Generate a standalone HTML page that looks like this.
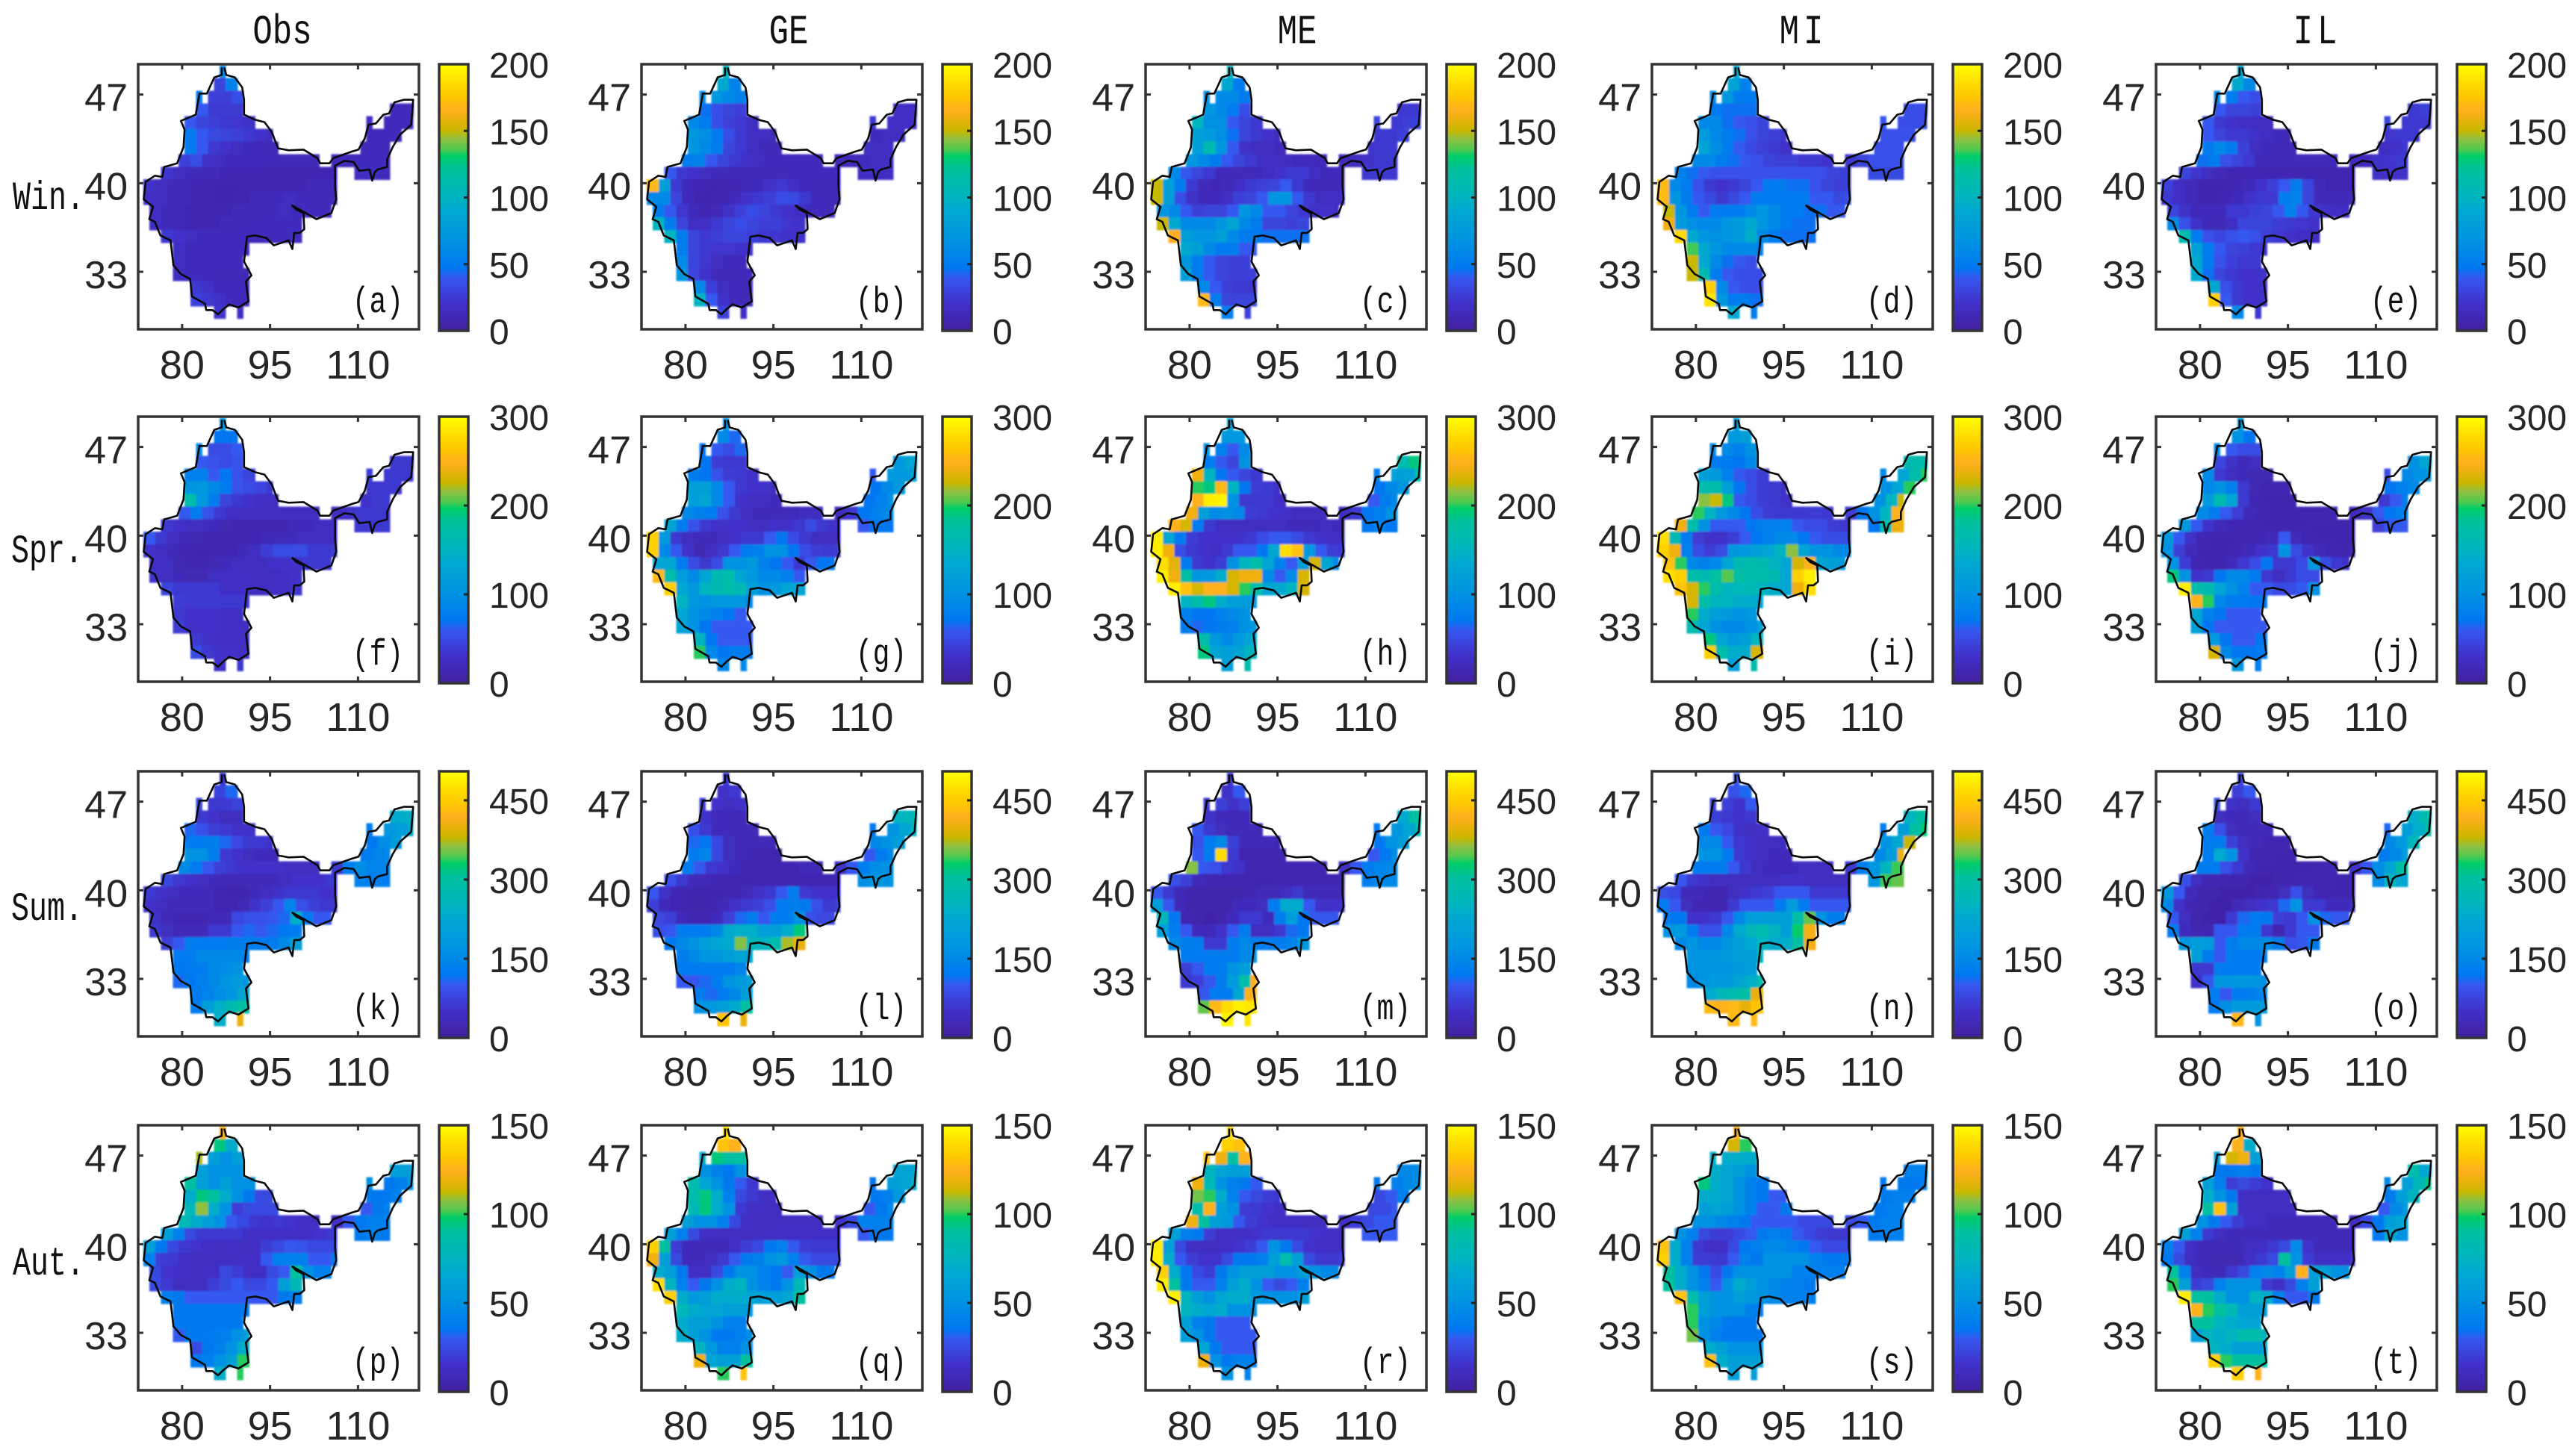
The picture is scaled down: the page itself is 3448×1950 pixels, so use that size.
<!DOCTYPE html>
<html lang="en">
<head>
<meta charset="utf-8">
<title>Seasonal precipitation maps</title>
<style>
html,body{margin:0;padding:0;background:#fff;width:3448px;height:1950px;overflow:hidden}
svg{display:block}
.num{font-family:"Liberation Sans",sans-serif;fill:#262626}
.mono{font-family:"Liberation Mono",monospace;fill:#111}
</style>
</head>
<body>
<svg id="figure" xmlns="http://www.w3.org/2000/svg" width="3448" height="1950" viewBox="0 0 3448 1950">
<defs>
<filter id="soft" x="-5%" y="-5%" width="110%" height="110%"><feGaussianBlur stdDeviation="1.1"/></filter>
<linearGradient id="barGradient" x1="0" y1="1" x2="0" y2="0"></linearGradient>
</defs>
<rect width="3448" height="1950" fill="#fff"/>
<text class="mono" font-size="44" text-anchor="middle" transform="translate(378,58) scale(1,1.27)">Obs</text>
<text class="mono" font-size="44" text-anchor="middle" transform="translate(1056,58) scale(1,1.27)">GE</text>
<text class="mono" font-size="44" text-anchor="middle" transform="translate(1737,58) scale(1,1.27)">ME</text>
<text class="mono" font-size="44" text-anchor="middle" letter-spacing="6" transform="translate(2415,58) scale(1,1.27)">MI</text>
<text class="mono" font-size="44" text-anchor="middle" letter-spacing="6" transform="translate(3103,58) scale(1,1.27)">IL</text>
<text class="mono" font-size="40" transform="translate(17,280) scale(1,1.35)">Win.</text>
<text class="mono" font-size="40" transform="translate(15,753) scale(1,1.35)">Spr.</text>
<text class="mono" font-size="40" transform="translate(15,1232) scale(1,1.35)">Sum.</text>
<text class="mono" font-size="40" transform="translate(17,1707) scale(1,1.35)">Aut.</text>
</svg>
<script>
// Tick labels and colour scale maxima
const lonTicks = [80, 95, 110];
const latTicks = [47, 40, 33];
const rowMaxima = [200, 300, 505, 150];
const rowColorTicks = [[0,50,100,150,200],[0,100,200,300],[0,150,300,450],[0,50,100,150]];
const panelTags = ["a","b","c","d","e","f","g","h","i","j","k","l","m","n","o","p","q","r","s","t"];
const modelKeys = ["obs","ge","me","mi","il"];
const seasonKeys = ["win","spr","sum","aut"];

// Land cells per latitude row: start/end grid column of each contiguous run
const landSegments = [
[[14,15]],[[13,17]],[[10,11],[12,18]],[[10,18],[43,47]],[[8,20],[39,40],[42,47]],
[[8,23],[39,45]],[[8,24],[38,43]],[[7,31],[33,43]],[[4,34],[37,43]],[[1,34]],
[[1,34]],[[2,33]],[[2,28]],[[4,28]],[[6,19]],[[6,18]],[[6,19]],[[9,19]],[[9,19]],[[13,15],[17,18]]];

// Basin boundary (lon, lat)
const boundaryLon = [87.2,87.52,88.98,90.24,90.56,90.56,92.46,94.05,95.31,95.95,96.39,98.17,100.7,103.1,103.55,105.14,105.77,108.94,110.08,111.16,111.79,113.06,114.33,115.28,116.23,117.81,119.4,119.08,117.18,115.91,114.96,114.96,113.37,112.87,112.42,111.98,110.21,109.26,107.67,106.09,106.09,106.28,105.45,102.92,100.7,98.8,99.43,100.7,100.83,100.07,99.12,98.8,98.17,95.63,94.36,92.46,91.07,90.56,91.83,90.88,91.32,90.24,89.61,88.03,87.08,86.13,85.17,84.1,83.91,81.69,81.37,79.79,78.52,78.01,76.3,75.35,74.4,75.03,73.45,73.77,75.35,76.62,76.94,79.15,80.23,80.42,79.79,82.32,82.96,84.22,85.49,86.76,86.76];
const boundaryLat = [49.14,48.55,48.36,47.57,46.59,45.41,45.01,44.82,44.03,43.24,42.75,42.6,42.65,41.97,41.57,41.57,41.97,42.5,42.65,43.54,44.62,44.72,45.41,45.51,46.39,46.59,46.59,44.62,43.83,42.85,41.87,41.28,41.08,40.88,40.2,41.08,40.98,41.67,41.77,41.38,39.7,38.72,37.64,37.15,37.74,38.23,37.93,37.64,36.36,36.07,36.07,34.79,35.48,35.08,35.67,35.87,35.77,33.81,32.72,32.23,30.66,30.36,30.17,30.42,30.07,29.64,29.97,29.97,30.46,31.05,32.43,32.82,33.51,35.48,35.87,36.95,37.15,38.13,38.72,40.1,40.59,40.49,41.28,41.57,42.85,44.23,44.92,45.41,47.08,47.08,48.36,48.55,49.14];

// Precipitation values per model / season, one sub-array per latitude row
const winObs = [[60],[30,55],[50,28,28,35],[40,25,25,25,14,14],[40,30,28,24,22,20,18,14,14,14],[50,40,32,30,28,24,20,16,14,14,14],[50,40,24,20,16,14,14,12,14,14,12],[28,35,20,16,14,14,14,14,12,12,12,12,14,14,14,14,14],[22,16,14,12,12,10,10,10,10,10,10,10,10,10,10,16,16,14],[20,16,12,12,10,10,8,8,8,8,10,10,10,10,12,12,12],[18,16,12,12,10,10,8,8,10,12,12,14,16,14,12,12,12],[18,14,12,10,10,10,10,12,12,12,14,16,14,14,14,14],[18,14,12,10,10,10,12,12,14,14,14,14,14],[24,20,16,14,14,14,14,14,14,14,14,16],[18,14,14,14,14,14,14],[16,14,14,14,14,14],[16,14,14,14,12,12,12],[24,20,14,14,14],[28,24,20,14,14],[22,18]];
const winGe = [[100],[90,55],[60,70,60,55],[45,35,30,28,18,18],[60,50,35,28,24,18,24,18,18,18],[70,65,50,35,24,18,16,14,14,16,18],[70,60,50,30,24,18,14,12,16,16,18],[50,55,40,30,24,20,16,14,14,14,14,14,14,14,14,16,16],[40,24,20,16,14,12,12,12,12,12,14,14,14,14,14,18,18,18],[170,80,24,14,10,8,8,10,12,14,20,24,18,14,12,12,12],[60,60,30,14,8,8,10,14,20,24,28,34,32,24,14,12,14],[50,40,22,14,10,12,20,28,34,30,24,20,16,14,14,14],[100,50,30,18,18,24,30,34,30,28,28,22,20],[100,50,30,24,28,30,30,28,24,22,20,20],[50,30,24,22,22,20,18],[60,30,22,16,14,14],[70,30,20,14,12,14,14],[60,28,16,14,14],[100,40,20,14,12],[28,18]];
const winMe = [[100],[90,50],[65,60,60,50],[70,60,50,35,24,24],[100,65,65,40,30,24,30,24,28,28],[80,75,65,45,30,24,20,16,24,24,28],[80,110,70,40,20,16,16,14,22,24,24],[70,60,50,40,30,24,18,18,16,14,14,14,14,16,20,24,24],[60,40,30,24,14,12,12,14,18,20,24,24,18,14,14,24,24,24],[150,80,50,24,12,10,12,18,24,28,30,40,24,14,12,12,12],[150,80,35,20,14,14,18,28,30,40,70,70,40,24,16,18,16],[70,60,40,28,30,30,40,70,60,40,40,30,24,20,20,18],[150,90,60,60,60,70,85,60,50,30,30,28,30],[165,80,70,70,80,60,50,50,45,45,45,45],[90,80,60,50,50,40,40],[70,50,40,30,28,28],[80,50,40,30,28,28,28],[60,40,28,24,24],[170,50,30,30,30],[50,28]];
const winMi = [[90],[85,55],[60,70,50,50],[50,45,45,45,35,35],[60,60,45,40,36,30,40,35,35,35],[75,60,50,45,36,30,28,24,36,36,36],[85,65,50,40,32,28,24,20,36,36,36],[60,60,50,45,40,36,30,28,28,24,24,20,24,30,36,36,36],[55,45,40,36,36,36,36,36,36,36,36,36,36,30,28,32,32,32],[170,60,50,36,24,20,24,30,40,50,50,45,45,36,30,28,28],[170,70,50,40,32,24,32,40,50,50,50,50,50,40,40,32,36],[150,70,50,40,50,50,50,60,70,60,50,50,45,45,40,40],[160,75,65,60,60,70,75,90,70,60,50,45,45],[185,90,70,65,70,75,95,60,50,45,45,45],[135,90,70,60,60,60,50],[150,90,60,45,40,35],[150,110,50,40,35,35,35],[180,60,40,35,35],[190,70,50,50,45],[90,50]];
const winIl = [[90],[90,60],[60,50,40,35],[40,30,30,28,24,28],[40,24,20,18,18,16,30,24,24,24],[40,30,24,24,20,16,14,12,22,24,24],[50,60,50,28,16,14,12,12,18,20,24],[45,50,36,30,24,14,12,12,12,12,12,12,14,14,20,22,24],[30,22,16,12,10,10,10,10,10,10,10,10,10,10,10,20,20,20],[28,18,12,8,8,8,10,14,20,28,40,50,30,12,10,10,10],[24,18,12,8,8,10,14,20,24,24,50,55,30,14,12,12,12],[30,20,14,14,14,24,24,28,30,40,55,40,24,20,18,18],[60,36,20,14,12,18,30,30,30,26,24,22,20],[110,50,36,30,36,40,36,28,24,20,18,18],[80,50,40,30,28,24,22],[90,50,36,28,24,24],[90,45,30,24,20,20,20],[90,36,24,20,20],[180,40,24,20,20],[60,24]];
const sprObs = [[105],[70,70],[90,50,50,60],[60,55,50,55,36,36],[80,80,60,70,55,45,40,36,36,36],[105,110,90,75,55,50,45,35,36,36,36],[170,110,75,45,36,30,28,24,30,36,36],[60,75,55,36,28,24,24,24,24,24,24,24,24,30,36,36,36],[36,30,24,24,20,16,14,14,14,14,14,20,22,24,24,36,36,36],[60,36,24,20,16,14,12,12,14,14,20,20,20,24,24,24,24],[30,24,20,14,12,12,14,14,20,24,40,50,50,50,36,36,40],[28,24,16,14,14,16,20,24,24,24,30,30,30,36,36,36],[30,24,20,16,16,24,28,28,24,24,24,28,30],[45,36,36,36,36,28,28,28,24,24,28,36],[40,36,36,36,36,36,36],[36,30,30,30,28,28],[40,30,30,30,28,28,28],[36,30,28,28,28],[50,36,30,30,28],[30,36]];
const sprGe = [[100],[90,65],[70,60,50,65],[70,40,36,36,110,130],[75,70,55,40,36,30,60,110,110,120],[120,120,90,60,36,30,30,24,70,90,110],[120,130,90,60,30,24,24,20,70,80,100],[90,80,75,55,36,24,20,20,20,20,24,24,24,36,70,80,90],[130,75,55,36,30,30,30,24,24,30,30,36,50,36,30,60,70,70],[270,110,36,24,20,20,24,30,36,36,60,70,50,36,24,24,24],[270,90,60,30,16,24,36,60,75,80,100,100,70,50,40,36,40],[130,130,75,50,36,50,100,100,110,80,70,60,36,60,70,70],[255,170,115,90,130,165,170,130,110,90,90,80,60],[270,130,110,150,165,170,160,120,100,110,130,130],[150,110,100,110,110,110,90],[130,100,90,80,70,60],[130,100,70,60,60,60,60],[150,70,60,60,60],[200,90,70,75,75],[85,90]];
const sprMe = [[120],[110,110],[100,80,60,90],[75,60,45,100,165,190],[240,150,70,60,45,35,80,120,125,165],[200,190,255,150,70,40,36,30,70,90,105],[250,290,294,100,36,36,36,28,60,75,90],[240,120,90,100,90,40,36,32,30,24,24,24,24,36,70,80,100],[250,230,75,36,28,24,24,24,24,24,20,20,20,24,20,70,80,70],[290,130,75,40,30,30,30,30,36,50,60,60,50,36,30,28,28],[290,240,50,36,30,28,36,60,60,70,135,280,260,110,60,40,36],[280,235,75,36,30,40,100,150,170,130,80,60,120,230,130,90],[290,240,175,105,110,140,230,240,240,90,60,90,230],[290,260,230,250,250,230,200,170,130,135,150,230],[150,170,190,140,120,115,110],[80,70,70,80,90,100],[75,65,70,75,80,100,110],[170,110,90,110,130],[190,130,120,130,150],[120,170]];
const sprMi = [[110],[110,120],[90,90,80,100],[75,75,70,90,165,170],[120,110,80,60,50,40,90,130,170,200],[170,170,120,70,50,40,36,30,100,130,200],[215,225,190,60,50,40,36,30,100,150,225],[200,150,110,90,70,50,40,36,36,36,40,36,40,70,100,150,250],[240,170,100,60,60,60,70,80,80,80,60,50,50,40,36,70,170,240],[280,160,75,40,30,30,40,60,70,80,90,90,70,60,50,50,50],[270,240,80,50,40,50,105,110,120,130,150,215,130,100,100,90,90],[260,200,90,80,90,130,165,170,165,150,130,230,250,130,120,110],[280,270,175,165,180,205,175,170,170,165,130,270,290],[260,230,200,170,150,160,160,150,140,130,240,280],[230,175,150,150,140,140,130],[200,140,120,110,100,110],[165,130,100,90,90,100,120],[190,130,110,120,150],[270,170,140,140,230],[120,170]];
const sprIl = [[110],[100,70],[90,60,50,50],[45,30,20,24,100,130],[90,36,24,20,16,16,50,90,100,110],[90,100,80,36,16,14,14,12,70,80,90],[110,165,130,36,14,12,12,12,36,60,75],[90,75,60,40,20,14,12,12,12,14,14,14,20,30,60,70,80],[110,60,30,20,14,14,12,12,12,12,12,12,12,12,12,40,60,60],[110,60,30,14,12,12,12,14,14,20,60,20,14,12,12,12,12],[100,40,20,12,12,12,14,20,30,36,100,50,30,20,14,12,14],[100,40,14,12,12,20,36,50,70,36,36,50,110,50,36,30],[190,100,30,36,70,90,90,75,36,24,36,50,50],[290,170,165,130,100,80,60,60,50,50,60,100],[250,200,90,75,75,70,70],[130,80,70,60,60,60],[120,70,60,60,60,60,60],[110,70,60,60,70],[230,90,70,70,75],[105,80]];
const sumObs = [[60],[75,110],[80,60,60,75],[60,50,40,40,230,240],[110,90,70,60,50,50,125,180,200,220],[125,125,130,110,80,60,60,50,120,160,190],[170,170,130,60,50,40,36,36,125,140,150],[150,125,100,70,60,50,50,50,50,40,40,40,60,125,160,140,140],[80,60,50,40,36,30,30,30,30,36,40,50,50,50,60,140,130,130],[60,50,40,36,36,30,24,20,20,36,40,50,60,60,60,50,50],[50,40,30,30,30,30,24,24,30,50,70,100,140,90,70,60,60],[50,30,24,24,24,30,30,80,90,90,100,110,240,125,100,100],[60,40,30,30,30,60,60,100,110,100,110,120,130],[70,100,125,125,125,125,130,130,125,125,150,200],[125,130,150,150,150,150,130],[120,125,130,150,160,170],[110,120,135,150,175,190,175],[125,140,160,180,220],[125,200,240,275,300],[240,400]];
const sumGe = [[60],[50,60],[70,50,40,50],[50,36,36,30,250,260],[90,60,36,36,30,30,120,170,220,250],[110,120,80,40,30,30,30,30,150,170,200],[125,140,80,40,30,24,24,20,100,125,150],[125,100,60,50,36,24,24,24,24,24,30,30,50,100,130,160,170],[90,60,36,30,24,24,20,20,24,24,24,24,24,24,24,160,180,170],[100,50,24,20,20,20,20,24,30,50,60,100,125,60,50,50,50],[70,36,24,20,16,20,30,50,60,70,90,125,130,120,90,60,70],[80,70,36,24,24,36,70,110,125,100,125,130,170,90,80,80],[90,100,125,125,125,150,230,240,240,200,200,235,320],[120,150,170,200,220,230,360,260,250,280,370,400],[125,150,175,180,200,215,215],[125,125,125,125,125,140],[100,100,110,125,170,190,200],[125,110,125,150,200],[170,180,200,230,300],[440,400]];
const sumMe = [[60],[50,100],[60,70,50,70],[50,36,30,36,230,300],[100,60,40,30,30,30,120,180,220,270],[90,125,150,70,30,30,30,24,120,170,200],[100,125,470,60,24,24,24,24,100,120,160],[360,100,90,60,50,24,24,24,24,24,24,24,40,100,125,140,150],[90,70,36,24,24,24,24,20,20,24,24,24,24,24,24,130,150,150],[100,60,30,20,16,16,16,16,24,30,30,40,60,30,30,30,30],[200,100,30,16,16,16,20,36,36,40,125,230,230,100,50,50,50],[260,120,24,16,14,16,36,60,60,36,125,200,120,100,100,100],[200,130,100,36,30,50,100,125,40,40,60,110,120],[150,130,125,60,60,125,150,130,125,125,140,180],[125,125,125,125,125,150,170],[70,100,125,125,170,200],[60,70,100,125,190,290,420],[100,125,125,220,420],[350,430,470,490,480],[495,480]];
const sumMi = [[100],[90,110],[70,70,50,100],[70,60,50,60,250,300],[120,100,80,50,40,50,125,200,300,330],[150,150,100,60,50,40,40,40,170,220,380],[170,170,125,60,50,40,36,36,150,200,400],[125,125,125,100,60,40,36,36,36,40,40,40,60,125,175,260,340],[100,60,50,40,40,40,40,40,40,50,50,40,40,40,40,180,340,350],[90,80,36,30,24,24,40,50,60,70,100,100,100,60,60,60,60],[125,100,40,24,24,24,60,100,100,100,125,190,125,100,100,100,100],[120,120,50,50,60,100,150,200,200,200,200,290,350,170,130,125],[170,190,125,90,90,150,230,260,280,250,200,330,410],[150,175,150,150,175,200,225,250,230,240,300,410],[175,175,180,190,200,200,260],[175,175,175,175,190,200],[150,175,190,190,220,240,280],[230,260,280,290,400],[430,420,430,400,440],[430,430]];
const sumIl = [[80],[70,100],[90,50,40,60],[40,36,30,40,240,280],[125,90,40,30,30,36,110,200,240,290],[125,125,70,40,30,24,24,24,150,190,260],[125,230,170,50,24,24,20,20,125,150,190],[125,125,90,60,30,20,20,20,20,20,24,24,50,100,160,220,300],[90,40,24,24,20,20,14,14,20,20,24,24,24,20,20,160,250,220],[180,100,36,20,16,14,14,14,20,24,40,90,40,24,20,20,20],[150,50,24,16,14,14,30,40,50,60,110,170,60,60,36,36,40],[100,40,16,14,14,60,110,125,120,70,60,100,170,110,100,100],[125,36,24,24,100,100,125,125,60,24,60,100,100],[175,200,190,100,130,150,150,160,125,90,100,125],[200,125,100,125,125,125,125],[60,60,125,125,125,125],[50,100,175,175,180,175,160],[125,100,125,125,140],[125,160,190,190,190],[425,175]];
const autObs = [[125],[95,70],[110,60,50,60],[60,50,50,50,60,60],[90,60,50,60,50,50,50,36,40,50],[70,95,90,70,50,36,24,24,36,36,40],[80,108,70,50,20,24,24,24,30,36,40],[80,70,60,50,30,24,18,16,18,16,14,14,14,30,36,40,40],[60,40,24,18,18,18,18,14,14,14,14,14,14,16,18,36,40,36],[60,36,24,18,16,14,12,14,12,12,20,24,30,28,24,24,24],[40,20,18,14,12,12,12,12,14,14,30,40,40,40,30,30,36],[24,16,14,12,12,14,24,20,14,12,24,30,90,50,40,40],[24,18,12,12,12,20,24,30,24,24,30,60,80],[40,36,30,30,30,30,30,30,30,30,36,40],[36,36,36,36,36,36,36],[36,36,36,36,36,36],[30,36,36,38,40,50,60],[24,36,40,50,70],[36,40,50,60,100],[70,100]];
const autGe = [[140],[130,125],[70,95,90,90],[50,40,36,50,65,65],[85,65,50,36,30,18,35,60,65,70],[85,95,70,40,24,18,14,14,36,40,55],[80,95,70,50,18,14,12,12,30,36,45],[60,50,50,40,24,14,12,12,12,12,12,12,16,24,40,40,40],[60,40,24,14,12,12,12,12,12,14,14,14,14,14,14,30,36,36],[135,90,20,10,10,10,10,14,20,24,36,40,30,20,18,18,18],[120,60,24,10,10,12,18,30,36,40,50,55,40,30,24,24,24],[70,60,36,14,14,24,36,50,50,40,36,30,60,50,36,36],[140,75,40,30,36,50,70,75,50,40,36,50,80],[135,70,55,60,70,70,70,65,60,60,65,90],[80,70,65,65,60,60,55],[70,60,60,50,40,40],[70,60,50,36,36,40,50],[75,55,40,40,50],[120,65,60,60,90],[100,130]];
const autMe = [[140],[135,130],[130,120,90,125],[75,65,60,60,45,45],[120,80,50,40,36,30,36,40,45,50],[105,100,70,40,30,24,20,18,24,30,40],[85,125,60,50,20,18,16,14,24,24,30],[120,90,60,55,30,20,16,14,14,14,12,12,14,20,24,30,30],[60,40,36,20,14,14,14,16,18,18,18,18,16,14,14,30,30,30],[145,60,24,14,12,12,14,16,20,30,50,36,24,16,14,14,14],[145,70,30,20,16,16,24,36,36,40,60,85,60,24,18,18,20],[135,70,36,24,20,36,50,60,60,60,50,50,60,50,45,45],[145,90,36,30,30,40,60,70,50,30,24,30,40],[145,75,60,50,65,70,70,55,50,50,50,60],[75,70,65,70,50,50,50],[60,40,36,30,30,30],[60,50,36,30,30,30,30],[65,36,30,30,30],[120,50,36,40,40],[50,40]];
const autMi = [[125],[115,100],[70,70,70,70],[70,65,60,50,40,40],[95,70,65,50,40,36,36,36,36,40],[70,70,65,50,40,36,30,30,36,40,40],[60,65,60,50,40,30,30,36,36,40,40],[50,50,45,40,36,30,30,30,30,24,24,24,24,30,36,40,40],[50,40,24,20,20,24,30,36,40,36,30,24,20,18,18,36,40,40],[130,70,40,18,14,14,24,36,40,45,45,40,36,30,24,24,24],[135,70,40,20,20,18,30,40,36,50,50,50,50,40,36,36,36],[90,70,50,36,24,36,50,50,50,50,50,40,40,40,40,40],[90,70,50,40,30,50,70,60,50,45,40,40,36],[130,85,60,50,50,60,55,50,45,40,40,40],[100,60,50,50,50,40,36],[100,50,45,36,36,36],[105,50,40,36,36,36,36],[70,60,50,50,50],[130,70,60,60,60],[60,60]];
const autIl = [[125],[125,70],[60,115,120,60],[36,36,40,36,85,65],[60,40,20,24,20,16,45,60,80,95],[70,50,36,14,12,12,12,12,36,60,75],[90,130,60,14,12,12,12,12,30,45,55],[50,36,30,20,14,12,10,10,10,10,10,10,12,24,36,60,65],[60,40,18,12,10,10,10,10,10,10,10,10,10,10,10,36,65,50],[40,30,14,10,10,10,10,12,14,18,24,45,16,10,10,10,10],[36,24,12,10,8,8,8,14,18,24,90,50,20,14,14,14,16],[90,40,12,10,10,18,24,40,45,40,60,125,60,60,50,50],[100,60,20,24,40,50,50,50,18,14,24,40,60],[145,90,90,70,50,50,75,70,40,30,30,36],[125,100,90,80,60,60,60],[90,90,75,70,65,65],[60,75,70,75,85,85,75],[75,70,60,60,60],[135,100,90,90,90],[135,125]];

const seasonGrid = [
[winObs,winGe,winMe,winMi,winIl],
[sprObs,sprGe,sprMe,sprMi,sprIl],
[sumObs,sumGe,sumMe,sumMi,sumIl],
[autObs,autGe,autMe,autMi,autIl]];

// Colormap: fraction of the bar, colour
const colormapStops = [[0,"#42209e"],[0.1,"#4030c8"],[0.2,"#3558f0"],[0.235,"#0078f0"],[0.35,"#0096e0"],[0.45,"#00a8d0"],[0.5,"#00b4bf"],[0.6,"#00c0a0"],[0.655,"#00cc68"],[0.68,"#50c850"],[0.72,"#90c040"],[0.75,"#c8b800"],[0.8,"#f0b010"],[0.83,"#ffb020"],[0.88,"#ffc800"],[0.93,"#ffdc00"],[1,"#ffff00"]];

const SVG_NS = "http://www.w3.org/2000/svg";
const svg = document.getElementById("figure");
const columnLefts = [185,859,1534,2212,2887];
const rowTops = [86,558,1033,1507];
const axisW = 376, axisH = 355;
const lonMin = 72.5, lonScale = 7.85, latMax = 49.4, latScale = 16.95;
const gridLon0 = 72.4, gridLat0 = 49.3;

function el(name, attrs, parent){
  const node = document.createElementNS(SVG_NS, name);
  for (const k in attrs) node.setAttribute(k, attrs[k]);
  (parent || svg).appendChild(node);
  return node;
}
function hexToRgb(h){ return [parseInt(h.slice(1,3),16),parseInt(h.slice(3,5),16),parseInt(h.slice(5,7),16)]; }
function colorAt(t){
  t = Math.max(0, Math.min(1, t));
  for (let i = 1; i < colormapStops.length; i++){
    if (t <= colormapStops[i][0]){
      const a = colormapStops[i-1], b = colormapStops[i];
      const f = (t-a[0])/(b[0]-a[0]);
      const ca = hexToRgb(a[1]), cb = hexToRgb(b[1]);
      return "rgb("+ca.map((v,j)=>Math.round(v+(cb[j]-v)*f)).join(",")+")";
    }
  }
  return colormapStops[colormapStops.length-1][1];
}
const gradient = document.getElementById("barGradient");
colormapStops.forEach(s => el("stop", {offset:s[0], "stop-color":s[1]}, gradient));

rowTops.forEach((top, ri) => {
  const maxV = rowMaxima[ri];
  columnLefts.forEach((left, ci) => {
    const xOf = lon => left + (lon - lonMin) * lonScale;
    const yOf = lat => top + (latMax - lat) * latScale;
    const key = seasonKeys[ri] + "-" + modelKeys[ci];
    const tag = panelTags[ri*5+ci];
    const rows = seasonGrid[ri][ci];

    const panel = el("g", {});
    
    

    const heat = el("g", {filter:"url(#soft)", "shape-rendering":"crispEdges"}, panel);
    
    
    landSegments.forEach((segments, r) => {
      const vals = rows[r];
      let idx = 0;
      segments.forEach(seg => {
        for (let col = seg[0]; col < seg[1]; col += 2){
          const colEnd = Math.min(col + 2, seg[1]);
          const v = vals[Math.min(idx, vals.length-1)];
          idx++;
          const x0 = xOf(gridLon0 + col), x1 = xOf(gridLon0 + colEnd);
          const y0 = yOf(gridLat0 - r), y1 = yOf(gridLat0 - r - 1);
          const cell = el("rect", {x:x0.toFixed(1), y:y0.toFixed(1), width:(x1-x0+0.6).toFixed(1), height:(y1-y0+0.6).toFixed(1), fill:colorAt(v/maxV)}, heat);
          
          
        }
      });
    });

    const pts = boundaryLon.map((lon,i) => xOf(lon).toFixed(1)+","+yOf(boundaryLat[i]).toFixed(1)).join(" ");
    const outline = el("polyline", {points:pts, fill:"none", stroke:"#0a0a0a", "stroke-width":2.6, "stroke-linejoin":"round"}, panel);
    
    

    const frame = el("rect", {x:left, y:top, width:axisW, height:axisH, fill:"none", stroke:"#333", "stroke-width":3.5}, panel);
    
    

    lonTicks.forEach(t => {
      const x = xOf(t);
      const tk = el("path", {d:`M${x} ${top}v7M${x} ${top+axisH}v-7`, stroke:"#333", "stroke-width":3}, panel);
      
      
      const lb = el("text", {x:x, y:top+axisH+66, "font-size":54, "text-anchor":"middle", class:"num"}, panel);
      
      
      lb.textContent = t;
    });
    latTicks.forEach(t => {
      const y = yOf(t);
      const tk = el("path", {d:`M${left} ${y}h7M${left+axisW} ${y}h-7`, stroke:"#333", "stroke-width":3}, panel);
      
      
      const lb = el("text", {x:left-14, y:y+22, "font-size":52, "text-anchor":"end", class:"num"}, panel);
      
      
      lb.textContent = t;
    });

    const tagText = el("text", {"font-size":38, "text-anchor":"middle", class:"mono", transform:`translate(${left+321},${top+332}) scale(1,1.3)`}, panel);
    
    
    tagText.textContent = "(" + tag + ")";

    const barX = left + 403, barW = 39, barH = axisH + 2;
    const bar = el("rect", {x:barX, y:top, width:barW, height:barH, fill:"url(#barGradient)", stroke:"#333", "stroke-width":3.5}, panel);
    
    
    rowColorTicks[ri].forEach(t => {
      const y = top + barH - (t/maxV)*barH;
      if (t > 0 && t < maxV){
        const tk = el("path", {d:`M${barX+barW} ${y}h-6`, stroke:"#222", "stroke-width":3}, panel);
        
        
      }
      const lb = el("text", {x:barX+67, y:y+18, "font-size":48, class:"num"}, panel);
      
      
      lb.textContent = t;
    });
  });
});
</script>
</body>
</html>
